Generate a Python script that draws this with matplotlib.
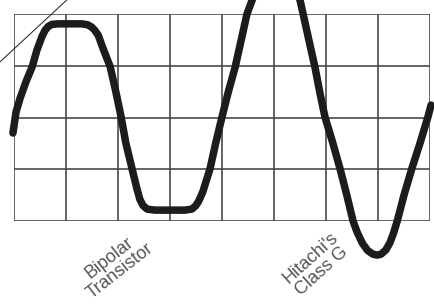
"""Oscilloscope trace: bipolar transistor clipping vs Hitachi class G."""

import matplotlib
matplotlib.use("Agg")
import matplotlib.pyplot as plt

# trace, in graticule divisions (x: 0..8, y: -2..2)
# first part: clipped output of the bipolar amplifier
bipolar_x = [-0.02, 0.04, 0.12, 0.23, 0.35, 0.44, 0.54, 0.60, 0.66, 0.73,
             0.85, 1.08, 1.31, 1.42, 1.49, 1.55, 1.62, 1.71, 1.85, 1.96,
             2.06, 2.15, 2.27, 2.36, 2.42, 2.48, 2.56, 2.71, 3.00, 3.29,
             3.42, 3.49, 3.55, 3.63, 3.77, 3.88]
bipolar_y = [-0.30, 0.11, 0.38, 0.69, 0.98, 1.30, 1.57, 1.69, 1.76, 1.80,
             1.81, 1.81, 1.81, 1.79, 1.75, 1.69, 1.59, 1.34, 0.98, 0.49,
             0.01, -0.49, -0.99, -1.36, -1.58, -1.70, -1.77, -1.79, -1.79, -1.79,
             -1.77, -1.71, -1.62, -1.44, -0.99, -0.49]
# second part: Hitachi class G, unclipped
classg_x = [4.00, 4.12, 4.25, 4.37, 4.48, 4.58, 4.69, 4.80, 4.92, 5.04,
            5.16, 5.28, 5.38, 5.50, 5.56, 5.67, 5.79, 5.88, 5.98, 6.13,
            6.27, 6.40, 6.52, 6.60, 6.70, 6.80, 6.90, 6.98, 7.06, 7.15,
            7.23, 7.30, 7.37, 7.50, 7.65, 7.81, 7.96, 8.02]
classg_y = [0.01, 0.49, 0.96, 1.50, 2.00, 2.27, 2.54, 2.72, 2.82, 2.85,
            2.82, 2.72, 2.54, 2.27, 2.00, 1.50, 0.96, 0.49, 0.01, -0.49,
            -0.99, -1.50, -2.00, -2.22, -2.43, -2.57, -2.64, -2.66, -2.64, -2.56,
            -2.42, -2.23, -2.00, -1.50, -0.99, -0.49, 0.01, 0.24]

# thin pointer line at top left (its label is cut off in the scan)
pointer_x = [-0.35, 1.10]
pointer_y = [1.00, 2.35]

labels = ["Bipolar\nTransistor", "Hitachi's\nClass G"]
label_x = [1.94, 5.81]
label_y = [-2.84, -2.84]
label_rot = [38, 42]

fig = plt.figure(figsize=(4.35, 3.06), dpi=100)
ax = fig.add_axes([14 / 435, (306 - 221) / 306, 416 / 435, 207 / 306])
ax.set_xlim(0, 8)
ax.set_ylim(-2, 2)

# graticule
for gx in range(0, 9):
    ax.axvline(gx, color='#4a4a4a', linewidth=1.2, zorder=1)
for gy in range(-2, 3):
    ax.axhline(gy, color='#4a4a4a', linewidth=1.2, zorder=1)

ax.plot(bipolar_x + classg_x, bipolar_y + classg_y, color='#1c1c1c',
        linewidth=5.4, solid_capstyle='round', solid_joinstyle='round',
        clip_on=False, zorder=3)
ax.plot(pointer_x, pointer_y, color='#333333', linewidth=0.8,
        clip_on=False, zorder=2)

for txt, tx, ty, rot in zip(labels, label_x, label_y, label_rot):
    ax.text(tx, ty, txt, rotation=rot, ha='center', va='center',
            multialignment='center', fontsize=13, color='#555555',
            family=['Liberation Sans', 'DejaVu Sans'], linespacing=1.0,
            rotation_mode='anchor', clip_on=False)

for side in ax.spines.values():
    side.set_visible(False)
ax.set_xticks([])
ax.set_yticks([])

plt.savefig('out.png', dpi=100)
plt.close()
